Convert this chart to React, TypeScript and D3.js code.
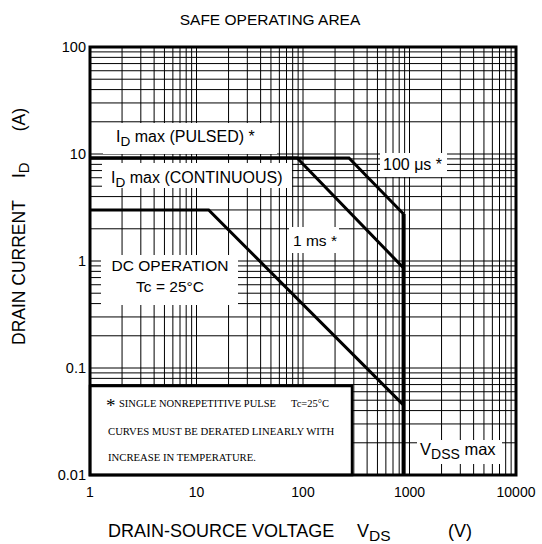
import React from 'react';
import * as d3 from 'd3';

// ---- data ----
const xTickValues = [1, 10, 100, 1000, 10000];
const xTickLabels = ['1', '10', '100', '1000', '10000'];
const yTickValues = [0.01, 0.1, 1, 10, 100];
const yTickLabels = ['0.01', '0.1', '1', '10', '100'];

const dcVoltage = [1, 13, 880];
const dcCurrent = [3, 3, 0.045];
const ms1Voltage = [1, 88, 880];
const ms1Current = [9.2, 9.2, 0.86];
const us100Voltage = [1, 270, 880];
const us100Current = [9.2, 9.2, 2.75];
const vdssVoltage = [880, 880];
const vdssCurrent = [2.75, 0.01];

const noteLines = [
  'SINGLE NONREPETITIVE PULSE',
  'CURVES MUST BE DERATED LINEARLY WITH',
  'INCREASE IN TEMPERATURE.',
];

// ---- layout ----
const W = 542;
const H = 544;
const L = 90;
const R = 516;
const T = 47;
const B = 475;
const SANS = 'Liberation Sans, Arial, sans-serif';
const SERIF = 'Liberation Serif, Times New Roman, serif';

const x = d3.scaleLog().domain([1, 10000]).range([L, R]);
const y = d3.scaleLog().domain([0.01, 100]).range([B, T]);

const line = d3
  .line<[number, number]>()
  .x((d) => x(d[0]))
  .y((d) => y(d[1]));

const zip = (a: number[], b: number[]) => a.map((v, i) => [v, b[i]] as [number, number]);

function Sub({ x0, y0, main, sub, rest, size }: { x0: number; y0: number; main: string; sub: string; rest: string; size: number }) {
  return (
    <text x={x0} y={y0} fontFamily={SANS} fontSize={size} fill="#000">
      {main}
      <tspan dy={4} fontSize={size * 0.85}>{sub}</tspan>
      <tspan dy={-4}>{rest}</tspan>
    </text>
  );
}

export default function App() {
  const gridX = x.ticks();
  const gridY = y.ticks();
  return (
    <svg width={W} height={H} style={{ position: 'absolute', left: 0, top: 0, background: '#fff' }}>
      <rect x={0} y={0} width={W} height={H} fill="#fff" />
      {/* grid */}
      <g stroke="#000" strokeWidth={1}>
        {gridX.map((v, i) => (
          <line key={'gx' + i} x1={x(v)} x2={x(v)} y1={T} y2={B} />
        ))}
        {gridY.map((v, i) => (
          <line key={'gy' + i} x1={L} x2={R} y1={y(v)} y2={y(v)} />
        ))}
      </g>
      {/* label backgrounds */}
      <g fill="#fff">
        <rect x={103} y={123} width={174} height={31} />
        <rect x={102} y={163} width={190} height={25} />
        <rect x={380} y={153} width={67} height={24} />
        <rect x={289} y={227} width={50} height={26} />
        <rect x={101} y={255} width={137} height={50} />
        <rect x={417} y={440} width={85} height={24} />
      </g>
      {/* note box */}
      <rect x={L} y={386} width={262} height={B - 386} fill="#fff" stroke="#000" strokeWidth={2.5} />
      {/* curves */}
      <g fill="none" stroke="#000" strokeLinejoin="miter">
        <path d={line(zip(dcVoltage, dcCurrent)) || ''} strokeWidth={3} />
        <path d={line(zip(ms1Voltage, ms1Current)) || ''} strokeWidth={3} />
        <path d={line(zip(us100Voltage, us100Current)) || ''} strokeWidth={3} />
        <path d={line(zip(vdssVoltage, vdssCurrent)) || ''} strokeWidth={4} />
      </g>
      {/* frame */}
      <rect x={L} y={T} width={R - L} height={B - T} fill="none" stroke="#000" strokeWidth={3} />
      {/* annotations */}
      <Sub x0={116} y0={142} main="I" sub="D" rest=" max (PULSED) *" size={16} />
      <Sub x0={111} y0={183} main="I" sub="D" rest=" max (CONTINUOUS)" size={16} />
      <text x={383} y={170} fontFamily={SANS} fontSize={16}>100 {'\u03BC'}s *</text>
      <text x={293} y={246} fontFamily={SANS} fontSize={15.5}>1 ms *</text>
      <text x={170} y={271} fontFamily={SANS} fontSize={15.5} textAnchor="middle">DC OPERATION</text>
      <text x={170} y={292} fontFamily={SANS} fontSize={15.5} textAnchor="middle">Tc = 25°C</text>
      <Sub x0={420} y0={455} main="V" sub="DSS" rest=" max" size={16.5} />
      {/* note text */}
      <text x={106} y={412} fontFamily={SERIF} fontSize={19}>*</text>
      <text x={119} y={407} fontFamily={SERIF} fontSize={10.5}>{noteLines[0]}</text>
      <text x={291} y={407} fontFamily={SERIF} fontSize={10.5}>Tc=25°C</text>
      <text x={108} y={435} fontFamily={SERIF} fontSize={10.7}>{noteLines[1]}</text>
      <text x={108} y={461} fontFamily={SERIF} fontSize={10.7}>{noteLines[2]}</text>
      {/* tick labels */}
      {yTickValues.map((v, i) => (
        <text key={'yl' + i} x={L - 4} y={y(v) + 5} textAnchor="end" fontFamily={SANS} fontSize={14.5}>
          {yTickLabels[i]}
        </text>
      ))}
      {xTickValues.map((v, i) => (
        <text key={'xl' + i} x={x(v)} y={497} textAnchor="middle" fontFamily={SANS} fontSize={14}>
          {xTickLabels[i]}
        </text>
      ))}
      {/* title */}
      <text x={270} y={25} textAnchor="middle" fontFamily={SANS} fontSize={15.5}>SAFE OPERATING AREA</text>
      {/* x title */}
      <text x={108} y={537} fontFamily={SANS} fontSize={18}>DRAIN-SOURCE VOLTAGE</text>
      <text x={357} y={537} fontFamily={SANS} fontSize={18}>
        V<tspan dy={4} fontSize={15.5}>DS</tspan>
      </text>
      <text x={472} y={537} textAnchor="end" fontFamily={SANS} fontSize={18}>(V)</text>
      {/* y title */}
      <g transform="translate(25,345) rotate(-90)">
        <text x={0} y={0} fontFamily={SANS} fontSize={17.5}>DRAIN CURRENT</text>
        <text x={167} y={0} fontFamily={SANS} fontSize={17.5}>
          I<tspan dy={4} fontSize={15}>D</tspan>
        </text>
        <text x={237} y={0} textAnchor="end" fontFamily={SANS} fontSize={17.5}>(A)</text>
      </g>
    </svg>
  );
}
